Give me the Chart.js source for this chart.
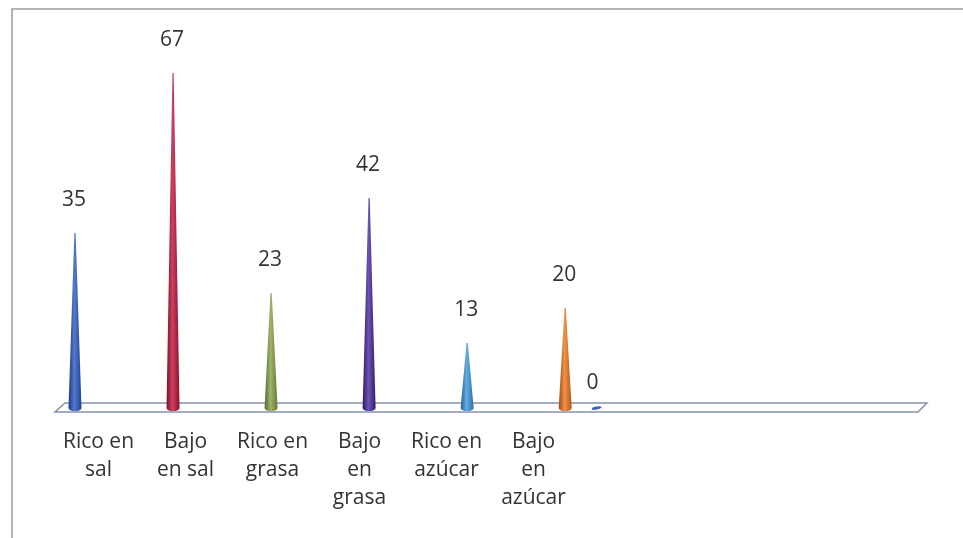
<!DOCTYPE html>
<html>
<head>
<meta charset="utf-8">
<script src="https://cdn.jsdelivr.net/npm/chart.js@4.4.1/dist/chart.umd.min.js"></script>
<style>
    html, body { margin: 0; padding: 0; background: #ffffff; }
    #wrap { width: 963px; height: 538px; position: relative; }
</style>
</head>
<body>
<div id="wrap"><canvas id="chartAlimentos"></canvas></div>
<script>
// Datos
const categories = [
    ['Rico en', 'sal'],
    ['Bajo', 'en sal'],
    ['Rico en', 'grasa'],
    ['Bajo', 'en', 'grasa'],
    ['Rico en', 'azúcar'],
    ['Bajo', 'en', 'azúcar']
];
const values = [35, 67, 23, 42, 13, 20];
// segunda serie (fila de fondo), solo tiene el 0
const valuesBack = [null, null, null, null, null, 0];
const emptySlots = ['', '', '', ''];

// Colores de los conos (estilo Office)
const coneColors = ['#2a58c2', '#bf1238', '#86a046', '#47289a', '#3b96dc', '#ef761a'];
const backColor = '#3b63c8';

const fontFamily = "'Open Sans', 'Liberation Sans', sans-serif";

function shade(hex, amt) {
    const n = parseInt(hex.slice(1), 16);
    let r = (n >> 16) & 255, g = (n >> 8) & 255, b = n & 255;
    const f = c => Math.max(0, Math.min(255, Math.round(amt < 0 ? c * (1 + amt) : c + (255 - c) * amt)));
    return 'rgb(' + f(r) + ',' + f(g) + ',' + f(b) + ')';
}

function drawCone(ctx, x, base, top, halfW, color) {
    const g = ctx.createLinearGradient(x - halfW, 0, x + halfW, 0);
    g.addColorStop(0, shade(color, -0.35));
    g.addColorStop(0.45, shade(color, 0.2));
    g.addColorStop(1, shade(color, -0.25));
    ctx.save();
    ctx.fillStyle = g;
    ctx.beginPath();
    ctx.moveTo(x - halfW, base);
    ctx.lineTo(x - 0.6, top);
    ctx.lineTo(x + 0.6, top);
    ctx.lineTo(x + halfW, base);
    ctx.ellipse(x, base, halfW, 3, 0, 0, Math.PI);
    ctx.closePath();
    ctx.fill();
    ctx.restore();
}

// Marco, suelo 3D, conos y etiquetas
const conePlugin = {
    id: 'conos',
    beforeDraw(chart) {
        const ctx = chart.ctx;
        ctx.save();
        ctx.strokeStyle = '#9c9c9c';
        ctx.lineWidth = 1.5;
        ctx.beginPath();
        ctx.moveTo(12, chart.height);
        ctx.lineTo(12, 9);
        ctx.lineTo(chart.width, 9);
        ctx.stroke();
        ctx.restore();
    },
    beforeDatasetsDraw(chart) {
        const ctx = chart.ctx;
        const a = chart.chartArea;
        const yb = chart.scales.y.getPixelForValue(0);
        ctx.save();
        ctx.strokeStyle = '#8792ab';
        ctx.lineWidth = 1.5;
        ctx.fillStyle = '#ffffff';
        ctx.beginPath();
        ctx.moveTo(a.left + 10, yb - 5);
        ctx.lineTo(a.right + 2, yb - 5);
        ctx.lineTo(a.right - 7, yb + 4);
        ctx.lineTo(a.left, yb + 4);
        ctx.closePath();
        ctx.fill();
        ctx.stroke();
        ctx.restore();
    },
    afterDatasetsDraw(chart) {
        const ctx = chart.ctx;
        const xs = chart.scales.x;
        const ys = chart.scales.y;
        const yb = ys.getPixelForValue(0);
        ctx.save();
        ctx.font = '21px ' + fontFamily;
        ctx.textAlign = 'center';
        ctx.textBaseline = 'middle';
        values.forEach((v, i) => {
            const x = xs.getPixelForValue(i);
            const top = ys.getPixelForValue(v);
            drawCone(ctx, x, yb, top, 6.5, coneColors[i]);
            ctx.fillStyle = '#333333';
            ctx.fillText(String(v), x - 1, top - 33);
        });
        // fila de fondo: desplazada en profundidad
        valuesBack.forEach((v, i) => {
            if (v === null) return;
            const x = xs.getPixelForValue(i + 0.3);
            ctx.fillStyle = backColor;
            ctx.beginPath();
            ctx.ellipse(x + 2, yb, 5, 1.5, -0.2, 0, Math.PI * 2);
            ctx.fill();
            ctx.fillStyle = '#333333';
            ctx.fillText(String(v), x - 2, ys.getPixelForValue(v) - 25);
        });
        ctx.restore();
    }
};

document.addEventListener('DOMContentLoaded', function () {
    const ctx = document.getElementById('chartAlimentos');
    new Chart(ctx, {
        type: 'bar',
        data: {
            datasets: [{
                label: 'Serie 1',
                data: values.map((v, i) => ({ x: i, y: v })),
                backgroundColor: 'rgba(0,0,0,0)',
                barThickness: 1,
                grouped: false
            }]
        },
        plugins: [conePlugin],
        options: {
            responsive: true,
            maintainAspectRatio: false,
            animation: false,
            layout: {
                padding: { left: 55, right: 38, top: 8, bottom: 6 }
            },
            scales: {
                x: {
                    type: 'linear',
                    display: false,
                    offset: false,
                    min: -0.204,
                    max: 8.67
                },
                xLabels: {
                    type: 'category',
                    position: 'bottom',
                    labels: categories.concat(emptySlots),
                    offset: true,
                    grid: { display: false, drawTicks: false },
                    border: { display: false },
                    ticks: {
                        autoSkip: false,
                        maxRotation: 0,
                        padding: 20,
                        color: '#333333',
                        font: { family: fontFamily, size: 21, lineHeight: 1.333 }
                    }
                },
                y: {
                    display: false,
                    min: 0,
                    max: 80
                }
            },
            plugins: {
                legend: { display: false },
                tooltip: { enabled: false }
            }
        }
    });
});
</script>
</body>
</html>
